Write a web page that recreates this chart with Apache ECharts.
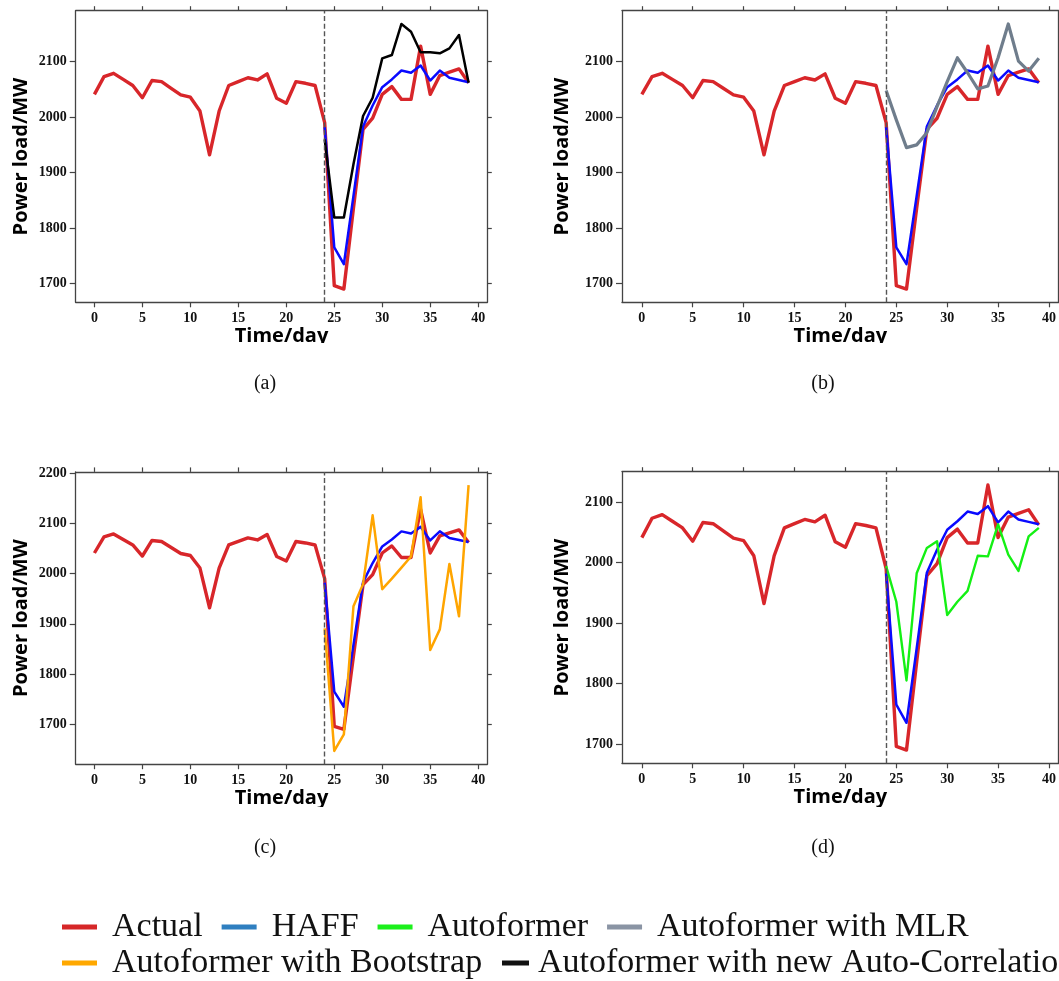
<!DOCTYPE html>
<html>
<head>
<meta charset="utf-8">
<script src="https://cdn.jsdelivr.net/npm/echarts@6/dist/echarts.min.js"></script>
<style>
  html, body { margin: 0; padding: 0; background: #ffffff; }
  #chart { width: 1059px; height: 981px; }
</style>
</head>
<body>
<div id="chart"></div>
<script>
// Daily power load (MW) over 40 days; forecasts cover days 24-39.
const days = [0, 1, 2, 3, 4, 5, 6, 7, 8, 9, 10, 11, 12, 13, 14, 15, 16, 17, 18, 19,
              20, 21, 22, 23, 24, 25, 26, 27, 28, 29, 30, 31, 32, 33, 34, 35, 36, 37, 38, 39];
const forecastDays = [24, 25, 26, 27, 28, 29, 30, 31, 32, 33, 34, 35, 36, 37, 38, 39];

const actual = [2041, 2073, 2079, 2068, 2057, 2035, 2066, 2064, 2052, 2040,
                2036, 2011, 1932, 2011, 2057, 2064, 2071, 2067, 2078, 2034,
                2025, 2064, 2061, 2057, 1990, 1696, 1690, 1836, 1978, 1998,
                2041, 2055, 2032, 2032, 2128, 2041, 2075, 2081, 2087, 2062];
const haff = [1982, 1765, 1735, 1858, 1983, 2021, 2054, 2068, 2084, 2080, 2093, 2066, 2084, 2071, 2067, 2063];
const autoformer = [1994, 1935, 1805, 1982, 2024, 2035, 1913, 1935, 1953, 2011, 2010, 2063, 2013, 1986, 2043, 2057];
const autoformerMLR = [2048, 1995, 1945, 1950, 1972, 2019, 2064, 2107, 2080, 2051, 2056, 2107, 2168, 2101, 2083, 2106];
const autoformerBootstrap = [1891, 1647, 1680, 1935, 1979, 2116, 1969, 1990, 2012, 2034, 2152, 1848, 1889, 2019, 1915, 2176];
const autoformerNewAC = [1960, 1819, 1819, 1915, 2002, 2035, 2106, 2112, 2168, 2154, 2117, 2117, 2115, 2124, 2148, 2062];

const xTicks = [0, 5, 10, 15, 20, 25, 30, 35, 40];
const yTicks = [1700, 1800, 1900, 2000, 2100];
const yTicksWide = [1700, 1800, 1900, 2000, 2100, 2200];

const seriesNames = ['Actual', 'HAFF', 'Autoformer', 'Autoformer with MLR',
                     'Autoformer with Bootstrap', 'Autoformer with new Auto-Correlation'];
const lineColors = ['#d8262a', '#0a0aff', '#14f014', '#6f7d8c', '#ffa500', '#000000'];
const legendColors = ['#d62728', '#2f7fc0', '#1cf01c', '#8a94a4', '#ffa800', '#111111'];
const lineWidths = [3.4, 2.5, 2.4, 3.2, 2.5, 2.5];

// Pad an extent by 5% on each side, like matplotlib's autoscale margins.
function padded(arrays) {
  const all = [].concat(...arrays);
  const lo = Math.min(...all), hi = Math.max(...all);
  const m = (hi - lo) * 0.05;
  return [lo - m, hi + m];
}

const xRange = padded([days]);

// One entry per subplot: grid box, comparison model, y ticks, caption and y-title gap.
const panels = [
  { grid: { left: 75.7, top: 10.7, width: 411.6, height: 291.6 }, model: 5, values: autoformerNewAC,
    ticks: yTicks, caption: '(a)', cx: 265, cy: 374, nameGap: 44 },
  { grid: { left: 622, top: 10.7, width: 438.9, height: 291.6 }, model: 3, values: autoformerMLR,
    ticks: yTicks, caption: '(b)', cx: 823, cy: 374, nameGap: 50 },
  { grid: { left: 75.7, top: 471.9, width: 411.6, height: 292.3 }, model: 4, values: autoformerBootstrap,
    ticks: yTicksWide, caption: '(c)', cx: 265, cy: 838, nameGap: 44 },
  { grid: { left: 622, top: 471.7, width: 438.9, height: 291.6 }, model: 2, values: autoformer,
    ticks: yTicks, caption: '(d)', cx: 823, cy: 838, nameGap: 50 }
];

const spine = { show: true, onZero: false, lineStyle: { color: '#444', width: 1.3 } };
const tickLine = { color: '#444', width: 1.2 };
const tickFont = { fontFamily: 'Liberation Serif', fontWeight: 'bold', fontSize: 14, color: '#111',
                   formatter: v => String(v) };
const titleFont = { fontFamily: 'Open Sans', fontWeight: 'bold', fontSize: 20, color: '#000' };

const grids = [], xAxes = [], yAxes = [], series = [], titles = [];

panels.forEach((p, i) => {
  grids.push(Object.assign({ containLabel: false }, p.grid));
  const yRange = padded([actual, haff, p.values]);

  // bottom axis with labels, top axis with mirrored ticks only
  xAxes.push({
    type: 'value', gridIndex: i, position: 'bottom', min: xRange[0], max: xRange[1],
    axisLine: spine, splitLine: { show: false },
    axisTick: { show: true, length: 5, lineStyle: tickLine, customValues: xTicks },
    axisLabel: Object.assign({ customValues: xTicks, margin: 9 }, tickFont),
    name: 'Time/day', nameLocation: 'middle', nameGap: 20, nameTextStyle: titleFont
  });
  xAxes.push({
    type: 'value', gridIndex: i, position: 'top', min: xRange[0], max: xRange[1],
    axisLine: spine, splitLine: { show: false },
    axisTick: { show: true, length: 4.5, lineStyle: tickLine, customValues: xTicks },
    axisLabel: { show: false }
  });
  yAxes.push({
    type: 'value', gridIndex: i, position: 'left', min: yRange[0], max: yRange[1],
    axisLine: spine, splitLine: { show: false },
    axisTick: { show: true, length: 6, lineStyle: tickLine, customValues: p.ticks },
    axisLabel: Object.assign({ customValues: p.ticks, margin: 9 }, tickFont),
    name: 'Power load/MW', nameLocation: 'middle', nameGap: p.nameGap, nameTextStyle: titleFont
  });
  yAxes.push({
    type: 'value', gridIndex: i, position: 'right', min: yRange[0], max: yRange[1],
    axisLine: spine, splitLine: { show: false },
    axisTick: { show: true, length: 4.5, lineStyle: tickLine, customValues: p.ticks },
    axisLabel: { show: false }
  });

  const xi = 2 * i, yi = 2 * i;
  const lineSeries = (k, xs, ys) => ({
    type: 'line', name: seriesNames[k], xAxisIndex: xi, yAxisIndex: yi,
    data: xs.map((d, j) => [d, ys[j]]),
    showSymbol: false, symbol: 'none', smooth: false,
    lineStyle: { color: lineColors[k], width: lineWidths[k], join: 'round', cap: 'butt' },
    itemStyle: { color: lineColors[k] },
    emphasis: { disabled: true }
  });

  const act = lineSeries(0, days, actual);
  act.markLine = {
    silent: true, symbol: ['none', 'none'], label: { show: false },
    lineStyle: { color: '#555', width: 1.4, type: [5, 2.6] },
    data: [{ xAxis: forecastDays[0] }]
  };
  series.push(act);
  series.push(lineSeries(1, forecastDays, haff));
  series.push(lineSeries(p.model, forecastDays, p.values));

  titles.push({
    text: p.caption, left: p.cx, top: p.cy, textAlign: 'center', padding: 0,
    textStyle: { fontFamily: 'Liberation Serif', fontWeight: 'normal', fontSize: 20, color: '#111' }
  });
});

const legendBase = {
  icon: 'rect', itemWidth: 35, itemHeight: 5, itemGap: 19, orient: 'horizontal',
  selectedMode: false, padding: 0, width: 1600,
  textStyle: { fontFamily: 'Liberation Serif', fontSize: 34, color: '#111', padding: [0, 0, 0, 10] }
};
const legendItem = k => ({ name: seriesNames[k], itemStyle: { color: legendColors[k] } });

const option = {
  backgroundColor: '#ffffff',
  animation: false,
  title: titles,
  grid: grids,
  xAxis: xAxes,
  yAxis: yAxes,
  legend: [
    Object.assign({}, legendBase, { left: 62, top: 910, data: [0, 1, 2, 3].map(legendItem) }),
    Object.assign({}, legendBase, { left: 62, top: 946, data: [4].map(legendItem) }),
    Object.assign({}, legendBase, { left: 502, top: 946, itemWidth: 27,
      textStyle: Object.assign({}, legendBase.textStyle, { padding: [0, 0, 0, 4] }),
      data: [5].map(legendItem) })
  ],
  // white bands where each sub-figure's bottom edge trims its x-axis title
  graphic: [
    { type: 'rect', z: 100, silent: true, shape: { x: 0, y: 343, width: 1059, height: 22 }, style: { fill: '#ffffff' } },
    { type: 'rect', z: 100, silent: true, shape: { x: 0, y: 807, width: 1059, height: 22 }, style: { fill: '#ffffff' } }
  ],
  series: series
};

const chart = echarts.init(document.getElementById('chart'), null, { renderer: 'canvas' });
chart.setOption(option);
</script>
</body>
</html>
